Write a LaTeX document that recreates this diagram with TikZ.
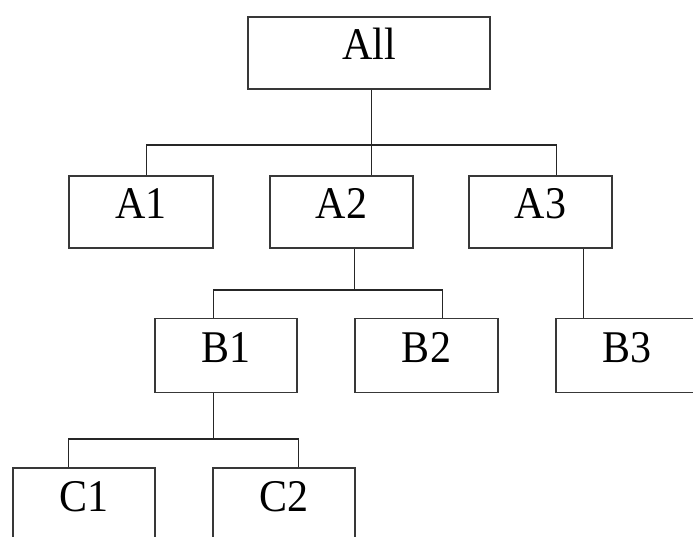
\documentclass[tikz,border=0pt]{standalone}
\usepackage{fontspec}
\setmainfont{Liberation Serif}
\usetikzlibrary{calc}
\begin{document}
\begin{tikzpicture}[x=1pt,y=-1pt,
  box/.style={draw=black!78, line width=1.5pt, fill=white, inner sep=0pt,
    text height=30pt, text depth=17pt,
    font=\fontsize{42}{42}\selectfont},
  abox/.style={box, minimum height=72pt},
  bbox/.style={box, minimum height=74pt},
  link/.style={draw=black!85, line width=1.1pt}]
\useasboundingbox (0,0) rectangle (693,536);
\clip (0,0) rectangle (693,536);

% boxes of the hierarchy
\node[abox, minimum width=242pt] (All) at (369,53)   {\scalebox{1}[1.08]{All}};
\node[abox, minimum width=144pt] (A1)  at (141,212)  {\scalebox{1}[1.08]{A1}};
\node[abox, minimum width=143pt] (A2)  at (341.5,212){\scalebox{1}[1.08]{A2}};
\node[abox, minimum width=143pt] (A3)  at (540.5,212){\scalebox{1}[1.08]{A3}};
\node[bbox, minimum width=142pt] (B1)  at (226,355.5){\scalebox{1}[1.08]{B1}};
\node[bbox, minimum width=143pt] (B2)  at (426.5,355.5){\scalebox{1}[1.08]{B2}};
\node[bbox, minimum width=142pt] (B3)  at (627,355.5){\scalebox{1}[1.08]{B3}};
\node[bbox, minimum width=142pt] (C1)  at (84,505)   {\scalebox{1}[1.08]{C1}};
\node[bbox, minimum width=142pt] (C2)  at (284,505)  {\scalebox{1}[1.08]{C2}};

% attachment points on the box edges
\coordinate (pAll) at ($(All.south west)!0.51!(All.south east)$);
\coordinate (cA1)  at ($(A1.north west)!0.54!(A1.north east)$);
\coordinate (cA2)  at ($(A2.north west)!0.71!(A2.north east)$);
\coordinate (cA3)  at ($(A3.north west)!0.61!(A3.north east)$);
\coordinate (pA2)  at ($(A2.south west)!0.59!(A2.south east)$);
\coordinate (pA3)  at ($(A3.south west)!0.80!(A3.south east)$);
\coordinate (cB1)  at ($(B1.north west)!0.41!(B1.north east)$);
\coordinate (cB2)  at ($(B2.north west)!0.61!(B2.north east)$);
\coordinate (pB1)  at ($(B1.south west)!0.41!(B1.south east)$);
\coordinate (cC1)  at ($(C1.north west)!0.39!(C1.north east)$);
\coordinate (cC2)  at ($(C2.north west)!0.60!(C2.north east)$);

% levels of the horizontal buses
\coordinate (busA) at (0,145);
\coordinate (busB) at (0,290);
\coordinate (busC) at (0,439);

% All -> A1, A2, A3
\draw[link] (pAll) -- (pAll |- busA);
\draw[link] (cA1) |- (cA3 |- busA) -- (cA3);
\draw[link] (cA2) -- (cA2 |- busA);

% A2 -> B1, B2
\draw[link] (pA2) -- (pA2 |- busB);
\draw[link] (cB1) |- (cB2 |- busB) -- (cB2);

% A3 -> B3
\draw[link] (pA3) -- (pA3 |- B3.north);

% B1 -> C1, C2
\draw[link] (pB1) -- (pB1 |- busC);
\draw[link] (cC1) |- (cC2 |- busC) -- (cC2);
\end{tikzpicture}
\end{document}
